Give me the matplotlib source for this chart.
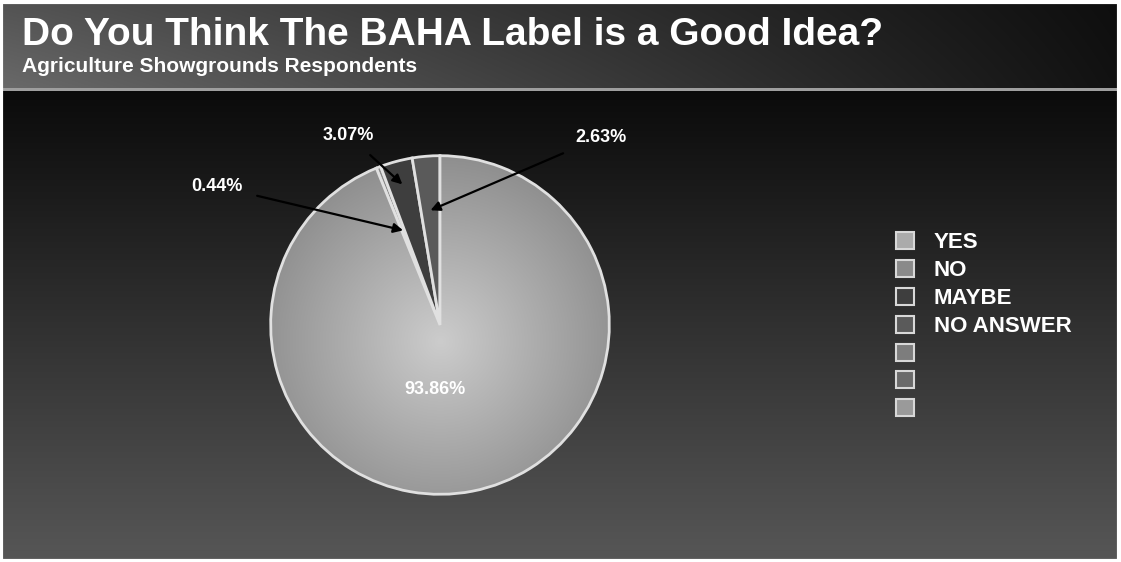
import matplotlib.pyplot as plt
import numpy as np
from matplotlib.patches import Patch, Rectangle

labels = ['YES', 'NO', 'MAYBE', 'NO ANSWER']
values = [93.86, 0.44, 3.07, 2.63]
colors = ['#ababab', '#8a8a8a', '#3e3e3e', '#5a5a5a']
# extra unlabeled legend entries shown in the original
extra_colors = ['#7d7d7d', '#6a6a6a', '#9a9a9a']

# label positions (pie data coords) and arrow tip radius per slice
label_pos = [None, (-1.32, 0.82), (-0.54, 1.12), (0.95, 1.11)]
tip_r = [None, 0.6, 0.86, 0.68]

W, H = 1121, 562
fig = plt.figure(figsize=(W / 100, H / 100), dpi=100)

# background: header bar + dark vertical gradient body
bg = fig.add_axes([0, 0, 1, 1], zorder=-10)
bg.set_axis_off()
img = np.zeros((H, W, 3))
xs = np.linspace(0, 1, W)
ys = np.linspace(0, 1, H)
head = 88
hx = 0.36 - 0.30 * xs
for i in range(head):
    img[i] = (hx * (0.9 + 0.25 * i / head))[:, None]
body = 0.04 + 0.30 * (ys[head:] - ys[head]) / (1 - ys[head])
img[head:] = body[:, None, None]
img[head:head + 3] = 0.62
bg.imshow(img, extent=[0, W, 0, H], aspect='auto', origin='upper')
bg.add_patch(Rectangle((1, 1), W - 3, H - 3, fill=False, ec='white', lw=3))
bg.set_xlim(0, W)
bg.set_ylim(0, H)

fig.text(22 / W, 1 - 35 / H, 'Do You Think The BAHA Label is a Good Idea?', color='white',
         fontsize=28, fontweight='bold', family='Liberation Sans', va='center')
fig.text(22 / W, 1 - 66 / H, 'Agriculture Showgrounds Respondents', color='white',
         fontsize=15, fontweight='bold', family='Liberation Sans', va='center')

# pie
cx, cy, r = 440, 325, 171
ax = fig.add_axes([(cx - r) / W, (H - cy - r) / H, 2 * r / W, 2 * r / H])
wedges, _ = ax.pie(values, colors=colors, startangle=90, counterclock=False,
                   wedgeprops=dict(edgecolor='#e0e0e0', linewidth=2))
ax.set_xlim(-1.01, 1.01)
ax.set_ylim(-1.01, 1.01)
ax.set_aspect('equal')
ax.set_axis_off()

# radial shading on the big slice
g = np.linspace(-1, 1, 300)
gx, gy = np.meshgrid(g, g)
rad = np.sqrt(gx ** 2 + (gy + 0.1) ** 2)
shade = np.clip(0.80 - 0.22 * rad, 0, 1)
im = ax.imshow(np.dstack([shade] * 3), extent=[-1, 1, -1, 1], origin='lower', zorder=1.5)
im.set_clip_path(wedges[0])
wedges[0].set_zorder(2)
wedges[0].set_facecolor('none')

ax.text(-0.03, -0.38, f'{values[0]:.2f}%', color='white', fontsize=13, fontweight='bold',
        family='Liberation Sans', ha='center', va='center', zorder=5)

for i in range(1, len(values)):
    w = wedges[i]
    mid = np.deg2rad((w.theta1 + w.theta2) / 2)
    tip = (tip_r[i] * np.cos(mid), tip_r[i] * np.sin(mid))
    ax.annotate(f'{values[i]:.2f}%', xy=tip, xytext=label_pos[i], color='white',
                fontsize=13, fontweight='bold', family='Liberation Sans',
                ha='center', va='center', zorder=6, annotation_clip=False,
                arrowprops=dict(arrowstyle='-|>', color='black', lw=1.6,
                                shrinkA=9, shrinkB=0, mutation_scale=14))

handles = [Patch(facecolor=c, edgecolor='#d8d8d8', linewidth=1.5) for c in colors + extra_colors]
leg_labels = labels + [''] * len(extra_colors)
fig.legend(handles, leg_labels, loc='upper left', bbox_to_anchor=(876 / W, 1 - 212 / H),
           frameon=False, labelcolor='white', handlelength=0.8, handleheight=0.8,
           handletextpad=0.9, labelspacing=0.3,
           prop=dict(family='Liberation Sans', weight='bold', size=16))

fig.savefig('out.png', dpi=100)
